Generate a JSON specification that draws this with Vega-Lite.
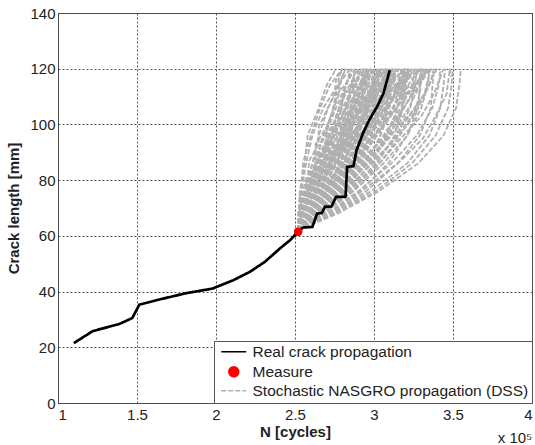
{
  "$schema": "https://vega.github.io/schema/vega-lite/v6.json",
  "autosize": "none",
  "width": 474,
  "height": 390,
  "padding": {"left": 58, "top": 13, "right": 3, "bottom": 42},
  "background": "white",
  "config": {
    "font": "Liberation Sans",
    "view": {"stroke": "#555", "strokeWidth": 1},
    "axis": {"labelFont": "Liberation Sans", "titleFont": "Liberation Sans", "labelFontSize": 15, "titleFontSize": 15, "labelColor": "#222", "titleColor": "#222", "titleFontWeight": "bold", "gridColor": "#444", "gridDash": [2, 2], "gridWidth": 1, "gridOpacity": 0.9, "domain": false, "ticks": false},
    "legend": {"orient": "bottom-right", "offset": 0, "padding": 3, "strokeColor": "#555", "fillColor": "white", "labelFontSize": 15.5, "labelFont": "Liberation Sans", "labelColor": "#222", "labelOffset": 11, "labelLimit": 400, "rowPadding": 2, "symbolSize": 100, "symbolOffset": 9, "symbolStrokeWidth": 1.4, "symbolOpacity": 1}
  },
  "datasets": {
    "real": [
      {"n": 1.10, "a": 21.5}, {"n": 1.22, "a": 25.8}, {"n": 1.39, "a": 28.4}, {"n": 1.47, "a": 30.5},
      {"n": 1.515, "a": 35.3}, {"n": 1.63, "a": 37.0}, {"n": 1.81, "a": 39.4}, {"n": 1.98, "a": 41.1},
      {"n": 2.11, "a": 44.1}, {"n": 2.215, "a": 47.1}, {"n": 2.31, "a": 50.7}, {"n": 2.405, "a": 55.5},
      {"n": 2.47, "a": 58.5}, {"n": 2.52, "a": 61.5}, {"n": 2.55, "a": 63.0}, {"n": 2.61, "a": 63.2},
      {"n": 2.64, "a": 68.0}, {"n": 2.67, "a": 68.2}, {"n": 2.69, "a": 70.5}, {"n": 2.73, "a": 70.5},
      {"n": 2.76, "a": 74.0}, {"n": 2.82, "a": 74.0}, {"n": 2.83, "a": 84.8}, {"n": 2.87, "a": 85.0},
      {"n": 2.89, "a": 90.8}, {"n": 2.93, "a": 96.8}, {"n": 2.97, "a": 101.6}, {"n": 3.02, "a": 106.4},
      {"n": 3.06, "a": 111.2}, {"n": 3.10, "a": 119.5}
    ],
    "measure": [{"n": 2.52, "a": 61.5}],
    "stoch": [
      {"r":1,"n":2.52,"a":62},{"r":1,"n":2.53,"a":68},{"r":1,"n":2.53,"a":76},{"r":1,"n":2.56,"a":86},{"r":1,"n":2.58,"a":96},{"r":1,"n":2.65,"a":106},{"r":1,"n":2.70,"a":114},{"r":1,"n":2.76,"a":120},
      {"r":2,"n":2.52,"a":62},{"r":2,"n":2.53,"a":68},{"r":2,"n":2.54,"a":76},{"r":2,"n":2.55,"a":86},{"r":2,"n":2.60,"a":96},{"r":2,"n":2.66,"a":106},{"r":2,"n":2.72,"a":114},{"r":2,"n":2.80,"a":120},
      {"r":3,"n":2.52,"a":62},{"r":3,"n":2.52,"a":68},{"r":3,"n":2.54,"a":76},{"r":3,"n":2.57,"a":86},{"r":3,"n":2.61,"a":96},{"r":3,"n":2.68,"a":106},{"r":3,"n":2.77,"a":114},{"r":3,"n":2.85,"a":120},
      {"r":4,"n":2.52,"a":62},{"r":4,"n":2.54,"a":68},{"r":4,"n":2.56,"a":76},{"r":4,"n":2.61,"a":86},{"r":4,"n":2.65,"a":96},{"r":4,"n":2.71,"a":106},{"r":4,"n":2.78,"a":114},{"r":4,"n":2.82,"a":120},
      {"r":5,"n":2.52,"a":62},{"r":5,"n":2.53,"a":68},{"r":5,"n":2.57,"a":76},{"r":5,"n":2.61,"a":86},{"r":5,"n":2.69,"a":96},{"r":5,"n":2.76,"a":106},{"r":5,"n":2.82,"a":114},{"r":5,"n":2.88,"a":120},
      {"r":6,"n":2.52,"a":62},{"r":6,"n":2.53,"a":68},{"r":6,"n":2.57,"a":76},{"r":6,"n":2.63,"a":86},{"r":6,"n":2.71,"a":96},{"r":6,"n":2.80,"a":106},{"r":6,"n":2.88,"a":114},{"r":6,"n":2.94,"a":120},
      {"r":7,"n":2.52,"a":62},{"r":7,"n":2.54,"a":68},{"r":7,"n":2.59,"a":76},{"r":7,"n":2.64,"a":86},{"r":7,"n":2.74,"a":96},{"r":7,"n":2.85,"a":106},{"r":7,"n":2.92,"a":114},{"r":7,"n":3.00,"a":120},
      {"r":8,"n":2.52,"a":62},{"r":8,"n":2.54,"a":68},{"r":8,"n":2.59,"a":76},{"r":8,"n":2.67,"a":86},{"r":8,"n":2.77,"a":96},{"r":8,"n":2.89,"a":106},{"r":8,"n":3.00,"a":114},{"r":8,"n":3.08,"a":120},
      {"r":9,"n":2.52,"a":62},{"r":9,"n":2.54,"a":68},{"r":9,"n":2.60,"a":76},{"r":9,"n":2.69,"a":86},{"r":9,"n":2.81,"a":96},{"r":9,"n":2.94,"a":106},{"r":9,"n":3.06,"a":114},{"r":9,"n":3.16,"a":120},
      {"r":10,"n":2.52,"a":62},{"r":10,"n":2.56,"a":68},{"r":10,"n":2.60,"a":76},{"r":10,"n":2.66,"a":86},{"r":10,"n":2.72,"a":96},{"r":10,"n":2.78,"a":106},{"r":10,"n":2.82,"a":114},{"r":10,"n":2.86,"a":120},
      {"r":11,"n":2.52,"a":62},{"r":11,"n":2.56,"a":68},{"r":11,"n":2.62,"a":76},{"r":11,"n":2.69,"a":86},{"r":11,"n":2.75,"a":96},{"r":11,"n":2.82,"a":106},{"r":11,"n":2.88,"a":114},{"r":11,"n":2.92,"a":120},
      {"r":12,"n":2.52,"a":62},{"r":12,"n":2.57,"a":68},{"r":12,"n":2.63,"a":76},{"r":12,"n":2.71,"a":86},{"r":12,"n":2.79,"a":96},{"r":12,"n":2.87,"a":106},{"r":12,"n":2.93,"a":114},{"r":12,"n":2.98,"a":120},
      {"r":13,"n":2.52,"a":62},{"r":13,"n":2.57,"a":68},{"r":13,"n":2.65,"a":76},{"r":13,"n":2.74,"a":86},{"r":13,"n":2.82,"a":96},{"r":13,"n":2.91,"a":106},{"r":13,"n":2.99,"a":114},{"r":13,"n":3.04,"a":120},
      {"r":14,"n":2.52,"a":62},{"r":14,"n":2.58,"a":68},{"r":14,"n":2.66,"a":76},{"r":14,"n":2.76,"a":86},{"r":14,"n":2.86,"a":96},{"r":14,"n":2.96,"a":106},{"r":14,"n":3.04,"a":114},{"r":14,"n":3.10,"a":120},
      {"r":15,"n":2.52,"a":62},{"r":15,"n":2.59,"a":68},{"r":15,"n":2.68,"a":76},{"r":15,"n":2.79,"a":86},{"r":15,"n":2.91,"a":96},{"r":15,"n":3.02,"a":106},{"r":15,"n":3.11,"a":114},{"r":15,"n":3.18,"a":120},
      {"r":16,"n":2.52,"a":62},{"r":16,"n":2.60,"a":68},{"r":16,"n":2.70,"a":76},{"r":16,"n":2.83,"a":86},{"r":16,"n":2.95,"a":96},{"r":16,"n":3.08,"a":106},{"r":16,"n":3.18,"a":114},{"r":16,"n":3.26,"a":120},
      {"r":17,"n":2.52,"a":62},{"r":17,"n":2.58,"a":68},{"r":17,"n":2.65,"a":76},{"r":17,"n":2.73,"a":86},{"r":17,"n":2.80,"a":96},{"r":17,"n":2.85,"a":106},{"r":17,"n":2.89,"a":114},{"r":17,"n":2.90,"a":120},
      {"r":18,"n":2.52,"a":62},{"r":18,"n":2.59,"a":68},{"r":18,"n":2.67,"a":76},{"r":18,"n":2.76,"a":86},{"r":18,"n":2.84,"a":96},{"r":18,"n":2.91,"a":106},{"r":18,"n":2.95,"a":114},{"r":18,"n":2.96,"a":120},
      {"r":19,"n":2.52,"a":62},{"r":19,"n":2.60,"a":68},{"r":19,"n":2.69,"a":76},{"r":19,"n":2.80,"a":86},{"r":19,"n":2.89,"a":96},{"r":19,"n":2.96,"a":106},{"r":19,"n":3.00,"a":114},{"r":19,"n":3.02,"a":120},
      {"r":20,"n":2.52,"a":62},{"r":20,"n":2.60,"a":68},{"r":20,"n":2.71,"a":76},{"r":20,"n":2.83,"a":86},{"r":20,"n":2.93,"a":96},{"r":20,"n":3.01,"a":106},{"r":20,"n":3.06,"a":114},{"r":20,"n":3.08,"a":120},
      {"r":21,"n":2.52,"a":62},{"r":21,"n":2.61,"a":68},{"r":21,"n":2.73,"a":76},{"r":21,"n":2.86,"a":86},{"r":21,"n":2.98,"a":96},{"r":21,"n":3.07,"a":106},{"r":21,"n":3.12,"a":114},{"r":21,"n":3.14,"a":120},
      {"r":22,"n":2.52,"a":62},{"r":22,"n":2.62,"a":68},{"r":22,"n":2.75,"a":76},{"r":22,"n":2.89,"a":86},{"r":22,"n":3.02,"a":96},{"r":22,"n":3.12,"a":106},{"r":22,"n":3.18,"a":114},{"r":22,"n":3.20,"a":120},
      {"r":23,"n":2.52,"a":62},{"r":23,"n":2.63,"a":68},{"r":23,"n":2.77,"a":76},{"r":23,"n":2.93,"a":86},{"r":23,"n":3.06,"a":96},{"r":23,"n":3.17,"a":106},{"r":23,"n":3.24,"a":114},{"r":23,"n":3.26,"a":120},
      {"r":24,"n":2.52,"a":62},{"r":24,"n":2.64,"a":68},{"r":24,"n":2.79,"a":76},{"r":24,"n":2.96,"a":86},{"r":24,"n":3.11,"a":96},{"r":24,"n":3.22,"a":106},{"r":24,"n":3.29,"a":114},{"r":24,"n":3.32,"a":120},
      {"r":25,"n":2.52,"a":62},{"r":25,"n":2.65,"a":68},{"r":25,"n":2.81,"a":76},{"r":25,"n":2.99,"a":86},{"r":25,"n":3.15,"a":96},{"r":25,"n":3.28,"a":106},{"r":25,"n":3.35,"a":114},{"r":25,"n":3.38,"a":120},
      {"r":26,"n":2.52,"a":62},{"r":26,"n":2.60,"a":68},{"r":26,"n":2.70,"a":76},{"r":26,"n":2.80,"a":86},{"r":26,"n":2.88,"a":96},{"r":26,"n":2.92,"a":106},{"r":26,"n":2.94,"a":114},{"r":26,"n":2.95,"a":120},
      {"r":27,"n":2.52,"a":62},{"r":27,"n":2.62,"a":68},{"r":27,"n":2.74,"a":76},{"r":27,"n":2.85,"a":86},{"r":27,"n":2.94,"a":96},{"r":27,"n":3.00,"a":106},{"r":27,"n":3.02,"a":114},{"r":27,"n":3.03,"a":120},
      {"r":28,"n":2.52,"a":62},{"r":28,"n":2.64,"a":68},{"r":28,"n":2.77,"a":76},{"r":28,"n":2.91,"a":86},{"r":28,"n":3.01,"a":96},{"r":28,"n":3.08,"a":106},{"r":28,"n":3.10,"a":114},{"r":28,"n":3.11,"a":120},
      {"r":29,"n":2.52,"a":62},{"r":29,"n":2.65,"a":68},{"r":29,"n":2.80,"a":76},{"r":29,"n":2.96,"a":86},{"r":29,"n":3.08,"a":96},{"r":29,"n":3.15,"a":106},{"r":29,"n":3.18,"a":114},{"r":29,"n":3.19,"a":120},
      {"r":30,"n":2.52,"a":62},{"r":30,"n":2.67,"a":68},{"r":30,"n":2.84,"a":76},{"r":30,"n":3.01,"a":86},{"r":30,"n":3.14,"a":96},{"r":30,"n":3.23,"a":106},{"r":30,"n":3.26,"a":114},{"r":30,"n":3.27,"a":120},
      {"r":31,"n":2.52,"a":62},{"r":31,"n":2.68,"a":68},{"r":31,"n":2.87,"a":76},{"r":31,"n":3.06,"a":86},{"r":31,"n":3.21,"a":96},{"r":31,"n":3.30,"a":106},{"r":31,"n":3.34,"a":114},{"r":31,"n":3.35,"a":120},
      {"r":32,"n":2.52,"a":62},{"r":32,"n":2.70,"a":68},{"r":32,"n":2.90,"a":76},{"r":32,"n":3.11,"a":86},{"r":32,"n":3.27,"a":96},{"r":32,"n":3.37,"a":106},{"r":32,"n":3.41,"a":114},{"r":32,"n":3.42,"a":120},
      {"r":33,"n":2.52,"a":62},{"r":33,"n":2.63,"a":68},{"r":33,"n":2.76,"a":76},{"r":33,"n":2.87,"a":86},{"r":33,"n":2.94,"a":96},{"r":33,"n":2.99,"a":106},{"r":33,"n":2.98,"a":114},{"r":33,"n":3.00,"a":120},
      {"r":34,"n":2.52,"a":62},{"r":34,"n":2.66,"a":68},{"r":34,"n":2.81,"a":76},{"r":34,"n":2.95,"a":86},{"r":34,"n":3.04,"a":96},{"r":34,"n":3.08,"a":106},{"r":34,"n":3.09,"a":114},{"r":34,"n":3.10,"a":120},
      {"r":35,"n":2.52,"a":62},{"r":35,"n":2.68,"a":68},{"r":35,"n":2.86,"a":76},{"r":35,"n":3.02,"a":86},{"r":35,"n":3.13,"a":96},{"r":35,"n":3.18,"a":106},{"r":35,"n":3.19,"a":114},{"r":35,"n":3.20,"a":120},
      {"r":36,"n":2.52,"a":62},{"r":36,"n":2.71,"a":68},{"r":36,"n":2.91,"a":76},{"r":36,"n":3.09,"a":86},{"r":36,"n":3.21,"a":96},{"r":36,"n":3.28,"a":106},{"r":36,"n":3.29,"a":114},{"r":36,"n":3.30,"a":120},
      {"r":37,"n":2.52,"a":62},{"r":37,"n":2.73,"a":68},{"r":37,"n":2.95,"a":76},{"r":37,"n":3.15,"a":86},{"r":37,"n":3.29,"a":96},{"r":37,"n":3.36,"a":106},{"r":37,"n":3.37,"a":114},{"r":37,"n":3.38,"a":120},
      {"r":38,"n":2.52,"a":62},{"r":38,"n":2.74,"a":68},{"r":38,"n":2.98,"a":76},{"r":38,"n":3.21,"a":86},{"r":38,"n":3.35,"a":96},{"r":38,"n":3.42,"a":106},{"r":38,"n":3.44,"a":114},{"r":38,"n":3.45,"a":120},
      {"r":39,"n":2.52,"a":62},{"r":39,"n":2.75,"a":68},{"r":39,"n":3.01,"a":76},{"r":39,"n":3.24,"a":86},{"r":39,"n":3.39,"a":96},{"r":39,"n":3.47,"a":106},{"r":39,"n":3.49,"a":114},{"r":39,"n":3.50,"a":120},
      {"r":40,"n":2.52,"a":62},{"r":40,"n":2.77,"a":68},{"r":40,"n":3.03,"a":76},{"r":40,"n":3.28,"a":86},{"r":40,"n":3.44,"a":96},{"r":40,"n":3.52,"a":106},{"r":40,"n":3.54,"a":114},{"r":40,"n":3.55,"a":120},
      {"r":41,"n":2.52,"a":62},{"r":41,"n":2.56,"a":66},{"r":41,"n":2.58,"a":72},{"r":41,"n":2.64,"a":79},{"r":41,"n":2.68,"a":87},{"r":41,"n":2.73,"a":95},{"r":41,"n":2.80,"a":103},{"r":41,"n":2.84,"a":111},{"r":41,"n":2.87,"a":117},{"r":41,"n":2.90,"a":120},
      {"r":42,"n":2.52,"a":62},{"r":42,"n":2.55,"a":66},{"r":42,"n":2.62,"a":72},{"r":42,"n":2.66,"a":79},{"r":42,"n":2.73,"a":87},{"r":42,"n":2.80,"a":95},{"r":42,"n":2.84,"a":103},{"r":42,"n":2.90,"a":111},{"r":42,"n":2.94,"a":117},{"r":42,"n":2.94,"a":120},
      {"r":43,"n":2.52,"a":62},{"r":43,"n":2.58,"a":66},{"r":43,"n":2.63,"a":72},{"r":43,"n":2.72,"a":79},{"r":43,"n":2.79,"a":87},{"r":43,"n":2.85,"a":95},{"r":43,"n":2.93,"a":103},{"r":43,"n":2.96,"a":111},{"r":43,"n":2.97,"a":117},{"r":43,"n":2.99,"a":120},
      {"r":44,"n":2.52,"a":62},{"r":44,"n":2.54,"a":66},{"r":44,"n":2.61,"a":72},{"r":44,"n":2.65,"a":79},{"r":44,"n":2.73,"a":87},{"r":44,"n":2.80,"a":95},{"r":44,"n":2.85,"a":103},{"r":44,"n":2.93,"a":111},{"r":44,"n":2.99,"a":117},{"r":44,"n":3.00,"a":120},
      {"r":45,"n":2.52,"a":62},{"r":45,"n":2.58,"a":66},{"r":45,"n":2.62,"a":72},{"r":45,"n":2.72,"a":79},{"r":45,"n":2.79,"a":87},{"r":45,"n":2.86,"a":95},{"r":45,"n":2.95,"a":103},{"r":45,"n":3.00,"a":111},{"r":45,"n":3.03,"a":117},{"r":45,"n":3.05,"a":120},
      {"r":46,"n":2.52,"a":62},{"r":46,"n":2.58,"a":66},{"r":46,"n":2.70,"a":72},{"r":46,"n":2.79,"a":79},{"r":46,"n":2.89,"a":87},{"r":46,"n":2.98,"a":95},{"r":46,"n":3.01,"a":103},{"r":46,"n":3.06,"a":111},{"r":46,"n":3.08,"a":117},{"r":46,"n":3.07,"a":120},
      {"r":47,"n":2.52,"a":62},{"r":47,"n":2.54,"a":66},{"r":47,"n":2.55,"a":72},{"r":47,"n":2.61,"a":79},{"r":47,"n":2.66,"a":87},{"r":47,"n":2.73,"a":95},{"r":47,"n":2.83,"a":103},{"r":47,"n":2.91,"a":111},{"r":47,"n":2.97,"a":117},{"r":47,"n":3.02,"a":120},
      {"r":48,"n":2.52,"a":62},{"r":48,"n":2.55,"a":66},{"r":48,"n":2.63,"a":72},{"r":48,"n":2.69,"a":79},{"r":48,"n":2.78,"a":87},{"r":48,"n":2.87,"a":95},{"r":48,"n":2.93,"a":103},{"r":48,"n":3.03,"a":111},{"r":48,"n":3.10,"a":117},{"r":48,"n":3.12,"a":120},
      {"r":49,"n":2.52,"a":62},{"r":49,"n":2.58,"a":66},{"r":49,"n":2.64,"a":72},{"r":49,"n":2.75,"a":79},{"r":49,"n":2.83,"a":87},{"r":49,"n":2.91,"a":95},{"r":49,"n":3.02,"a":103},{"r":49,"n":3.08,"a":111},{"r":49,"n":3.11,"a":117},{"r":49,"n":3.14,"a":120},
      {"r":50,"n":2.52,"a":62},{"r":50,"n":2.58,"a":66},{"r":50,"n":2.69,"a":72},{"r":50,"n":2.77,"a":79},{"r":50,"n":2.89,"a":87},{"r":50,"n":3.00,"a":95},{"r":50,"n":3.06,"a":103},{"r":50,"n":3.13,"a":111},{"r":50,"n":3.17,"a":117},{"r":50,"n":3.17,"a":120},
      {"r":51,"n":2.52,"a":62},{"r":51,"n":2.62,"a":66},{"r":51,"n":2.73,"a":72},{"r":51,"n":2.88,"a":79},{"r":51,"n":2.99,"a":87},{"r":51,"n":3.08,"a":95},{"r":51,"n":3.17,"a":103},{"r":51,"n":3.20,"a":111},{"r":51,"n":3.21,"a":117},{"r":51,"n":3.22,"a":120},
      {"r":52,"n":2.52,"a":62},{"r":52,"n":2.56,"a":66},{"r":52,"n":2.65,"a":72},{"r":52,"n":2.72,"a":79},{"r":52,"n":2.82,"a":87},{"r":52,"n":2.93,"a":95},{"r":52,"n":3.01,"a":103},{"r":52,"n":3.11,"a":111},{"r":52,"n":3.19,"a":117},{"r":52,"n":3.22,"a":120},
      {"r":53,"n":2.52,"a":62},{"r":53,"n":2.59,"a":66},{"r":53,"n":2.66,"a":72},{"r":53,"n":2.78,"a":79},{"r":53,"n":2.88,"a":87},{"r":53,"n":2.98,"a":95},{"r":53,"n":3.10,"a":103},{"r":53,"n":3.17,"a":111},{"r":53,"n":3.21,"a":117},{"r":53,"n":3.24,"a":120},
      {"r":54,"n":2.52,"a":62},{"r":54,"n":2.59,"a":66},{"r":54,"n":2.72,"a":72},{"r":54,"n":2.82,"a":79},{"r":54,"n":2.96,"a":87},{"r":54,"n":3.08,"a":95},{"r":54,"n":3.16,"a":103},{"r":54,"n":3.24,"a":111},{"r":54,"n":3.29,"a":117},{"r":54,"n":3.29,"a":120},
      {"r":55,"n":2.52,"a":62},{"r":55,"n":2.64,"a":66},{"r":55,"n":2.76,"a":72},{"r":55,"n":2.93,"a":79},{"r":55,"n":3.05,"a":87},{"r":55,"n":3.15,"a":95},{"r":55,"n":3.25,"a":103},{"r":55,"n":3.29,"a":111},{"r":55,"n":3.30,"a":117},{"r":55,"n":3.31,"a":120},
      {"r":56,"n":2.52,"a":62},{"r":56,"n":2.58,"a":66},{"r":56,"n":2.70,"a":72},{"r":56,"n":2.80,"a":79},{"r":56,"n":2.93,"a":87},{"r":56,"n":3.06,"a":95},{"r":56,"n":3.15,"a":103},{"r":56,"n":3.25,"a":111},{"r":56,"n":3.32,"a":117},{"r":56,"n":3.33,"a":120},
      {"r":57,"n":2.52,"a":62},{"r":57,"n":2.58,"a":66},{"r":57,"n":2.64,"a":72},{"r":57,"n":2.76,"a":79},{"r":57,"n":2.86,"a":87},{"r":57,"n":2.95,"a":95},{"r":57,"n":3.08,"a":103},{"r":57,"n":3.18,"a":111},{"r":57,"n":3.25,"a":117},{"r":57,"n":3.30,"a":120},
      {"r":58,"n":2.52,"a":62},{"r":58,"n":2.52,"a":66},{"r":58,"n":2.58,"a":72},{"r":58,"n":2.62,"a":79},{"r":58,"n":2.72,"a":87},{"r":58,"n":2.84,"a":95},{"r":58,"n":2.94,"a":103},{"r":58,"n":3.08,"a":111},{"r":58,"n":3.19,"a":117},{"r":58,"n":3.24,"a":120},
      {"r":59,"n":2.52,"a":62},{"r":59,"n":2.54,"a":66},{"r":59,"n":2.54,"a":72},{"r":59,"n":2.60,"a":79},{"r":59,"n":2.65,"a":87},{"r":59,"n":2.71,"a":95},{"r":59,"n":2.80,"a":103},{"r":59,"n":2.88,"a":111},{"r":59,"n":2.93,"a":117},{"r":59,"n":2.98,"a":120},
      {"r":60,"n":2.52,"a":62},{"r":60,"n":2.54,"a":66},{"r":60,"n":2.60,"a":72},{"r":60,"n":2.62,"a":79},{"r":60,"n":2.68,"a":87},{"r":60,"n":2.74,"a":95},{"r":60,"n":2.76,"a":103},{"r":60,"n":2.81,"a":111},{"r":60,"n":2.84,"a":117},{"r":60,"n":2.84,"a":120},
      {"r":61,"n":2.52,"a":62},{"r":61,"n":2.55,"a":66},{"r":61,"n":2.56,"a":72},{"r":61,"n":2.61,"a":79},{"r":61,"n":2.64,"a":87},{"r":61,"n":2.67,"a":95},{"r":61,"n":2.73,"a":103},{"r":61,"n":2.76,"a":111},{"r":61,"n":2.78,"a":117},{"r":61,"n":2.80,"a":120},
      {"r":62,"n":2.52,"a":62},{"r":62,"n":2.52,"a":66},{"r":62,"n":2.57,"a":72},{"r":62,"n":2.60,"a":79},{"r":62,"n":2.68,"a":87},{"r":62,"n":2.78,"a":95},{"r":62,"n":2.86,"a":103},{"r":62,"n":2.97,"a":111},{"r":62,"n":3.07,"a":117},{"r":62,"n":3.10,"a":120},
      {"r":63,"n":2.52,"a":62},{"r":63,"n":2.62,"a":66},{"r":63,"n":2.74,"a":72},{"r":63,"n":2.90,"a":79},{"r":63,"n":3.05,"a":87},{"r":63,"n":3.17,"a":95},{"r":63,"n":3.30,"a":103},{"r":63,"n":3.38,"a":111},{"r":63,"n":3.42,"a":117},{"r":63,"n":3.44,"a":120},
      {"r":64,"n":2.52,"a":62},{"r":64,"n":2.64,"a":66},{"r":64,"n":2.83,"a":72},{"r":64,"n":2.99,"a":79},{"r":64,"n":3.17,"a":87},{"r":64,"n":3.31,"a":95},{"r":64,"n":3.39,"a":103},{"r":64,"n":3.46,"a":111},{"r":64,"n":3.49,"a":117},{"r":64,"n":3.48,"a":120},
      {"r":65,"n":2.52,"a":62},{"r":65,"n":2.61,"a":66},{"r":65,"n":2.70,"a":72},{"r":65,"n":2.84,"a":79},{"r":65,"n":2.97,"a":87},{"r":65,"n":3.08,"a":95},{"r":65,"n":3.22,"a":103},{"r":65,"n":3.32,"a":111},{"r":65,"n":3.37,"a":117},{"r":65,"n":3.40,"a":120},
      {"r":66,"n":2.52,"a":62},{"r":66,"n":2.57,"a":66},{"r":66,"n":2.67,"a":72},{"r":66,"n":2.75,"a":79},{"r":66,"n":2.88,"a":87},{"r":66,"n":3.00,"a":95},{"r":66,"n":3.10,"a":103},{"r":66,"n":3.22,"a":111},{"r":66,"n":3.32,"a":117},{"r":66,"n":3.35,"a":120},
      {"r":67,"n":2.52,"a":62},{"r":67,"n":2.54,"a":66},{"r":67,"n":2.57,"a":72},{"r":67,"n":2.65,"a":79},{"r":67,"n":2.74,"a":87},{"r":67,"n":2.85,"a":95},{"r":67,"n":2.99,"a":103},{"r":67,"n":3.13,"a":111},{"r":67,"n":3.23,"a":117},{"r":67,"n":3.30,"a":120},
      {"r":68,"n":2.52,"a":62},{"r":68,"n":2.55,"a":66},{"r":68,"n":2.63,"a":72},{"r":68,"n":2.68,"a":79},{"r":68,"n":2.75,"a":87},{"r":68,"n":2.82,"a":95},{"r":68,"n":2.86,"a":103},{"r":68,"n":2.91,"a":111},{"r":68,"n":2.94,"a":117},{"r":68,"n":2.93,"a":120},
      {"r":69,"n":2.52,"a":62},{"r":69,"n":2.59,"a":66},{"r":69,"n":2.65,"a":72},{"r":69,"n":2.77,"a":79},{"r":69,"n":2.86,"a":87},{"r":69,"n":2.95,"a":95},{"r":69,"n":3.06,"a":103},{"r":69,"n":3.13,"a":111},{"r":69,"n":3.16,"a":117},{"r":69,"n":3.19,"a":120},
      {"r":70,"n":2.52,"a":62},{"r":70,"n":2.55,"a":66},{"r":70,"n":2.62,"a":72},{"r":70,"n":2.67,"a":79},{"r":70,"n":2.75,"a":87},{"r":70,"n":2.84,"a":95},{"r":70,"n":2.89,"a":103},{"r":70,"n":2.98,"a":111},{"r":70,"n":3.04,"a":117},{"r":70,"n":3.06,"a":120},
      {"r":71,"n":2.52,"a":62},{"r":71,"n":2.55,"a":65},{"r":71,"n":2.56,"a":70},{"r":71,"n":2.62,"a":75},{"r":71,"n":2.63,"a":81},{"r":71,"n":2.69,"a":87},{"r":71,"n":2.69,"a":93},{"r":71,"n":2.76,"a":99},{"r":71,"n":2.79,"a":105},{"r":71,"n":2.81,"a":111},{"r":71,"n":2.87,"a":116},{"r":71,"n":2.88,"a":120},
      {"r":72,"n":2.52,"a":62},{"r":72,"n":2.55,"a":65},{"r":72,"n":2.62,"a":70},{"r":72,"n":2.64,"a":75},{"r":72,"n":2.72,"a":81},{"r":72,"n":2.76,"a":87},{"r":72,"n":2.83,"a":93},{"r":72,"n":2.85,"a":99},{"r":72,"n":2.89,"a":105},{"r":72,"n":2.93,"a":111},{"r":72,"n":2.93,"a":116},{"r":72,"n":2.95,"a":120},
      {"r":73,"n":2.52,"a":62},{"r":73,"n":2.54,"a":65},{"r":73,"n":2.54,"a":70},{"r":73,"n":2.60,"a":75},{"r":73,"n":2.61,"a":81},{"r":73,"n":2.68,"a":87},{"r":73,"n":2.71,"a":93},{"r":73,"n":2.80,"a":99},{"r":73,"n":2.86,"a":105},{"r":73,"n":2.92,"a":111},{"r":73,"n":3.01,"a":116},{"r":73,"n":3.05,"a":120},
      {"r":74,"n":2.52,"a":62},{"r":74,"n":2.55,"a":65},{"r":74,"n":2.60,"a":70},{"r":74,"n":2.61,"a":75},{"r":74,"n":2.69,"a":81},{"r":74,"n":2.72,"a":87},{"r":74,"n":2.80,"a":93},{"r":74,"n":2.82,"a":99},{"r":74,"n":2.88,"a":105},{"r":74,"n":2.94,"a":111},{"r":74,"n":2.96,"a":116},{"r":74,"n":3.00,"a":120},
      {"r":75,"n":2.52,"a":62},{"r":75,"n":2.58,"a":65},{"r":75,"n":2.63,"a":70},{"r":75,"n":2.72,"a":75},{"r":75,"n":2.77,"a":81},{"r":75,"n":2.86,"a":87},{"r":75,"n":2.90,"a":93},{"r":75,"n":2.98,"a":99},{"r":75,"n":3.02,"a":105},{"r":75,"n":3.06,"a":111},{"r":75,"n":3.10,"a":116},{"r":75,"n":3.10,"a":120},
      {"r":76,"n":2.52,"a":62},{"r":76,"n":2.53,"a":65},{"r":76,"n":2.56,"a":70},{"r":76,"n":2.57,"a":75},{"r":76,"n":2.65,"a":81},{"r":76,"n":2.69,"a":87},{"r":76,"n":2.79,"a":93},{"r":76,"n":2.83,"a":99},{"r":76,"n":2.92,"a":105},{"r":76,"n":3.02,"a":111},{"r":76,"n":3.08,"a":116},{"r":76,"n":3.15,"a":120},
      {"r":77,"n":2.52,"a":62},{"r":77,"n":2.56,"a":65},{"r":77,"n":2.59,"a":70},{"r":77,"n":2.67,"a":75},{"r":77,"n":2.69,"a":81},{"r":77,"n":2.77,"a":87},{"r":77,"n":2.80,"a":93},{"r":77,"n":2.89,"a":99},{"r":77,"n":2.94,"a":105},{"r":77,"n":2.98,"a":111},{"r":77,"n":3.05,"a":116},{"r":77,"n":3.08,"a":120},
      {"r":78,"n":2.52,"a":62},{"r":78,"n":2.57,"a":65},{"r":78,"n":2.67,"a":70},{"r":78,"n":2.72,"a":75},{"r":78,"n":2.84,"a":81},{"r":78,"n":2.91,"a":87},{"r":78,"n":3.02,"a":93},{"r":78,"n":3.06,"a":99},{"r":78,"n":3.13,"a":105},{"r":78,"n":3.19,"a":111},{"r":78,"n":3.20,"a":116},{"r":78,"n":3.22,"a":120},
      {"r":79,"n":2.52,"a":62},{"r":79,"n":2.54,"a":65},{"r":79,"n":2.53,"a":70},{"r":79,"n":2.58,"a":75},{"r":79,"n":2.59,"a":81},{"r":79,"n":2.64,"a":87},{"r":79,"n":2.66,"a":93},{"r":79,"n":2.73,"a":99},{"r":79,"n":2.78,"a":105},{"r":79,"n":2.82,"a":111},{"r":79,"n":2.89,"a":116},{"r":79,"n":2.92,"a":120},
      {"r":80,"n":2.52,"a":62},{"r":80,"n":2.55,"a":65},{"r":80,"n":2.62,"a":70},{"r":80,"n":2.64,"a":75},{"r":80,"n":2.74,"a":81},{"r":80,"n":2.79,"a":87},{"r":80,"n":2.88,"a":93},{"r":80,"n":2.92,"a":99},{"r":80,"n":2.99,"a":105},{"r":80,"n":3.07,"a":111},{"r":80,"n":3.11,"a":116},{"r":80,"n":3.16,"a":120},
      {"r":81,"n":2.52,"a":62},{"r":81,"n":2.57,"a":65},{"r":81,"n":2.61,"a":70},{"r":81,"n":2.70,"a":75},{"r":81,"n":2.74,"a":81},{"r":81,"n":2.82,"a":87},{"r":81,"n":2.84,"a":93},{"r":81,"n":2.92,"a":99},{"r":81,"n":2.95,"a":105},{"r":81,"n":2.98,"a":111},{"r":81,"n":3.02,"a":116},{"r":81,"n":3.02,"a":120},
      {"r":82,"n":2.52,"a":62},{"r":82,"n":2.53,"a":65},{"r":82,"n":2.57,"a":70},{"r":82,"n":2.57,"a":75},{"r":82,"n":2.66,"a":81},{"r":82,"n":2.70,"a":87},{"r":82,"n":2.81,"a":93},{"r":82,"n":2.86,"a":99},{"r":82,"n":2.95,"a":105},{"r":82,"n":3.06,"a":111},{"r":82,"n":3.12,"a":116},{"r":82,"n":3.20,"a":120},
      {"r":83,"n":2.52,"a":62},{"r":83,"n":2.55,"a":65},{"r":83,"n":2.57,"a":70},{"r":83,"n":2.64,"a":75},{"r":83,"n":2.65,"a":81},{"r":83,"n":2.72,"a":87},{"r":83,"n":2.74,"a":93},{"r":83,"n":2.81,"a":99},{"r":83,"n":2.85,"a":105},{"r":83,"n":2.88,"a":111},{"r":83,"n":2.94,"a":116},{"r":83,"n":2.96,"a":120},
      {"r":84,"n":2.52,"a":62},{"r":84,"n":2.58,"a":65},{"r":84,"n":2.68,"a":70},{"r":84,"n":2.74,"a":75},{"r":84,"n":2.87,"a":81},{"r":84,"n":2.94,"a":87},{"r":84,"n":3.06,"a":93},{"r":84,"n":3.10,"a":99},{"r":84,"n":3.18,"a":105},{"r":84,"n":3.24,"a":111},{"r":84,"n":3.26,"a":116},{"r":84,"n":3.28,"a":120},
      {"r":85,"n":2.52,"a":62},{"r":85,"n":2.53,"a":65},{"r":85,"n":2.53,"a":70},{"r":85,"n":2.58,"a":75},{"r":85,"n":2.57,"a":81},{"r":85,"n":2.63,"a":87},{"r":85,"n":2.63,"a":93},{"r":85,"n":2.70,"a":99},{"r":85,"n":2.74,"a":105},{"r":85,"n":2.77,"a":111},{"r":85,"n":2.84,"a":116},{"r":85,"n":2.86,"a":120},
      {"r":86,"n":2.52,"a":62},{"r":86,"n":2.56,"a":65},{"r":86,"n":2.63,"a":70},{"r":86,"n":2.66,"a":75},{"r":86,"n":2.77,"a":81},{"r":86,"n":2.82,"a":87},{"r":86,"n":2.92,"a":93},{"r":86,"n":2.97,"a":99},{"r":86,"n":3.05,"a":105},{"r":86,"n":3.14,"a":111},{"r":86,"n":3.18,"a":116},{"r":86,"n":3.24,"a":120},
      {"r":87,"n":2.52,"a":62},{"r":87,"n":2.58,"a":65},{"r":87,"n":2.63,"a":70},{"r":87,"n":2.73,"a":75},{"r":87,"n":2.78,"a":81},{"r":87,"n":2.87,"a":87},{"r":87,"n":2.91,"a":93},{"r":87,"n":3.00,"a":99},{"r":87,"n":3.04,"a":105},{"r":87,"n":3.07,"a":111},{"r":87,"n":3.12,"a":116},{"r":87,"n":3.12,"a":120},
      {"r":88,"n":2.52,"a":62},{"r":88,"n":2.53,"a":65},{"r":88,"n":2.56,"a":70},{"r":88,"n":2.56,"a":75},{"r":88,"n":2.64,"a":81},{"r":88,"n":2.68,"a":87},{"r":88,"n":2.77,"a":93},{"r":88,"n":2.82,"a":99},{"r":88,"n":2.90,"a":105},{"r":88,"n":3.00,"a":111},{"r":88,"n":3.05,"a":116},{"r":88,"n":3.12,"a":120},
      {"r":89,"n":2.52,"a":62},{"r":89,"n":2.57,"a":65},{"r":89,"n":2.62,"a":70},{"r":89,"n":2.72,"a":75},{"r":89,"n":2.78,"a":81},{"r":89,"n":2.88,"a":87},{"r":89,"n":2.94,"a":93},{"r":89,"n":3.05,"a":99},{"r":89,"n":3.13,"a":105},{"r":89,"n":3.20,"a":111},{"r":89,"n":3.29,"a":116},{"r":89,"n":3.34,"a":120},
      {"r":90,"n":2.52,"a":62},{"r":90,"n":2.55,"a":65},{"r":90,"n":2.60,"a":70},{"r":90,"n":2.61,"a":75},{"r":90,"n":2.69,"a":81},{"r":90,"n":2.72,"a":87},{"r":90,"n":2.79,"a":93},{"r":90,"n":2.79,"a":99},{"r":90,"n":2.83,"a":105},{"r":90,"n":2.87,"a":111},{"r":90,"n":2.86,"a":116},{"r":90,"n":2.88,"a":120},
      {"r":91,"n":2.52,"a":62},{"r":91,"n":2.54,"a":65},{"r":91,"n":2.55,"a":70},{"r":91,"n":2.63,"a":75},{"r":91,"n":2.67,"a":81},{"r":91,"n":2.77,"a":87},{"r":91,"n":2.83,"a":93},{"r":91,"n":2.96,"a":99},{"r":91,"n":3.06,"a":105},{"r":91,"n":3.16,"a":111},{"r":91,"n":3.28,"a":116},{"r":91,"n":3.36,"a":120},
      {"r":92,"n":2.52,"a":62},{"r":92,"n":2.54,"a":65},{"r":92,"n":2.57,"a":70},{"r":92,"n":2.57,"a":75},{"r":92,"n":2.63,"a":81},{"r":92,"n":2.64,"a":87},{"r":92,"n":2.70,"a":93},{"r":92,"n":2.70,"a":99},{"r":92,"n":2.74,"a":105},{"r":92,"n":2.78,"a":111},{"r":92,"n":2.79,"a":116},{"r":92,"n":2.82,"a":120},
      {"r":93,"n":2.52,"a":62},{"r":93,"n":2.58,"a":65},{"r":93,"n":2.64,"a":70},{"r":93,"n":2.75,"a":75},{"r":93,"n":2.81,"a":81},{"r":93,"n":2.91,"a":87},{"r":93,"n":2.95,"a":93},{"r":93,"n":3.05,"a":99},{"r":93,"n":3.09,"a":105},{"r":93,"n":3.13,"a":111},{"r":93,"n":3.18,"a":116},{"r":93,"n":3.18,"a":120},
      {"r":94,"n":2.52,"a":62},{"r":94,"n":2.53,"a":65},{"r":94,"n":2.55,"a":70},{"r":94,"n":2.55,"a":75},{"r":94,"n":2.62,"a":81},{"r":94,"n":2.64,"a":87},{"r":94,"n":2.72,"a":93},{"r":94,"n":2.75,"a":99},{"r":94,"n":2.81,"a":105},{"r":94,"n":2.89,"a":111},{"r":94,"n":2.92,"a":116},{"r":94,"n":2.98,"a":120},
      {"r":95,"n":2.52,"a":62},{"r":95,"n":2.57,"a":65},{"r":95,"n":2.60,"a":70},{"r":95,"n":2.69,"a":75},{"r":95,"n":2.73,"a":81},{"r":95,"n":2.82,"a":87},{"r":95,"n":2.86,"a":93},{"r":95,"n":2.96,"a":99},{"r":95,"n":3.02,"a":105},{"r":95,"n":3.09,"a":111},{"r":95,"n":3.16,"a":116},{"r":95,"n":3.20,"a":120},
      {"r":96,"n":2.52,"a":62},{"r":96,"n":2.59,"a":65},{"r":96,"n":2.70,"a":70},{"r":96,"n":2.77,"a":75},{"r":96,"n":2.91,"a":81},{"r":96,"n":2.99,"a":87},{"r":96,"n":3.11,"a":93},{"r":96,"n":3.17,"a":99},{"r":96,"n":3.25,"a":105},{"r":96,"n":3.32,"a":111},{"r":96,"n":3.34,"a":116},{"r":96,"n":3.36,"a":120},
      {"r":97,"n":2.52,"a":62},{"r":97,"n":2.54,"a":65},{"r":97,"n":2.55,"a":70},{"r":97,"n":2.62,"a":75},{"r":97,"n":2.65,"a":81},{"r":97,"n":2.74,"a":87},{"r":97,"n":2.79,"a":93},{"r":97,"n":2.91,"a":99},{"r":97,"n":2.99,"a":105},{"r":97,"n":3.09,"a":111},{"r":97,"n":3.20,"a":116},{"r":97,"n":3.26,"a":120},
      {"r":98,"n":2.52,"a":62},{"r":98,"n":2.55,"a":65},{"r":98,"n":2.60,"a":70},{"r":98,"n":2.62,"a":75},{"r":98,"n":2.70,"a":81},{"r":98,"n":2.73,"a":87},{"r":98,"n":2.82,"a":93},{"r":98,"n":2.84,"a":99},{"r":98,"n":2.91,"a":105},{"r":98,"n":2.97,"a":111},{"r":98,"n":2.99,"a":116},{"r":98,"n":3.04,"a":120},
      {"r":99,"n":2.52,"a":62},{"r":99,"n":2.57,"a":65},{"r":99,"n":2.62,"a":70},{"r":99,"n":2.71,"a":75},{"r":99,"n":2.75,"a":81},{"r":99,"n":2.84,"a":87},{"r":99,"n":2.87,"a":93},{"r":99,"n":2.95,"a":99},{"r":99,"n":2.99,"a":105},{"r":99,"n":3.02,"a":111},{"r":99,"n":3.06,"a":116},{"r":99,"n":3.06,"a":120},
      {"r":100,"n":2.52,"a":62},{"r":100,"n":2.52,"a":65},{"r":100,"n":2.54,"a":70},{"r":100,"n":2.53,"a":75},{"r":100,"n":2.58,"a":81},{"r":100,"n":2.59,"a":87},{"r":100,"n":2.65,"a":93},{"r":100,"n":2.65,"a":99},{"r":100,"n":2.70,"a":105},{"r":100,"n":2.75,"a":111},{"r":100,"n":2.76,"a":116},{"r":100,"n":2.80,"a":120}
    ]
  },
  "encoding": {
    "x": {"field": "n", "type": "quantitative", "scale": {"domain": [1, 4], "nice": false, "zero": false}, "axis": {"title": "N [cycles]", "values": [1, 1.5, 2, 2.5, 3, 3.5, 4], "format": "~g", "labelPadding": 4, "titlePadding": 2, "grid": true}},
    "y": {"field": "a", "type": "quantitative", "scale": {"domain": [0, 140], "nice": false}, "axis": {"title": "Crack length [mm]", "values": [0, 20, 40, 60, 80, 100, 120, 140], "labelPadding": 3, "titlePadding": 8, "grid": true}}
  },
  "layer": [
    {
      "data": {"name": "measure"},
      "mark": {"type": "point", "filled": true, "size": 70, "opacity": 1},
      "encoding": {
        "color": {"datum": "Measure", "legend": {"title": null},
          "scale": {"domain": ["Real crack propagation", "Measure", "Stochastic NASGRO propagation (DSS)"], "range": ["#000000", "#ff0000", "#b0b0b0"]}},
        "shape": {"datum": "Measure", "legend": {"title": null},
          "scale": {"domain": ["Real crack propagation", "Measure", "Stochastic NASGRO propagation (DSS)"], "range": ["M-2.5,0H2.5", "circle", "M-2.5,0H2.5"]}}
      }
    },
    {
      "data": {"name": "stoch"},
      "mark": {"type": "line", "strokeWidth": 1.8, "opacity": 1},
      "encoding": {
        "detail": {"field": "r", "type": "nominal"},
        "color": {"datum": "Stochastic NASGRO propagation (DSS)", "legend": {"title": null}},
        "strokeDash": {"datum": "Stochastic NASGRO propagation (DSS)", "legend": {"title": null},
          "scale": {"domain": ["Real crack propagation", "Measure", "Stochastic NASGRO propagation (DSS)"], "range": [[1, 0], [1, 0], [5, 2]]}}
      }
    },
    {
      "data": {"name": "real"},
      "mark": {"type": "line", "strokeWidth": 2.7, "strokeJoin": "round"},
      "encoding": {
        "color": {"datum": "Real crack propagation", "legend": {"title": null}},
        "strokeDash": {"datum": "Real crack propagation", "legend": {"title": null}}
      }
    },
    {
      "data": {"name": "measure"},
      "mark": {"type": "point", "filled": true, "size": 70, "opacity": 1},
      "encoding": {
        "color": {"datum": "Measure", "legend": {"title": null}},
        "shape": {"datum": "Measure", "legend": {"title": null}}
      }
    },
    {
      "data": {"values": [{"lab": "x 10⁵", "n": 4, "a": -12.5}]},
      "mark": {"type": "text", "fontSize": 15, "font": "Liberation Sans", "color": "#222", "align": "center", "baseline": "middle", "dx": -17},
      "encoding": {"text": {"field": "lab"}}
    }
  ]
}
